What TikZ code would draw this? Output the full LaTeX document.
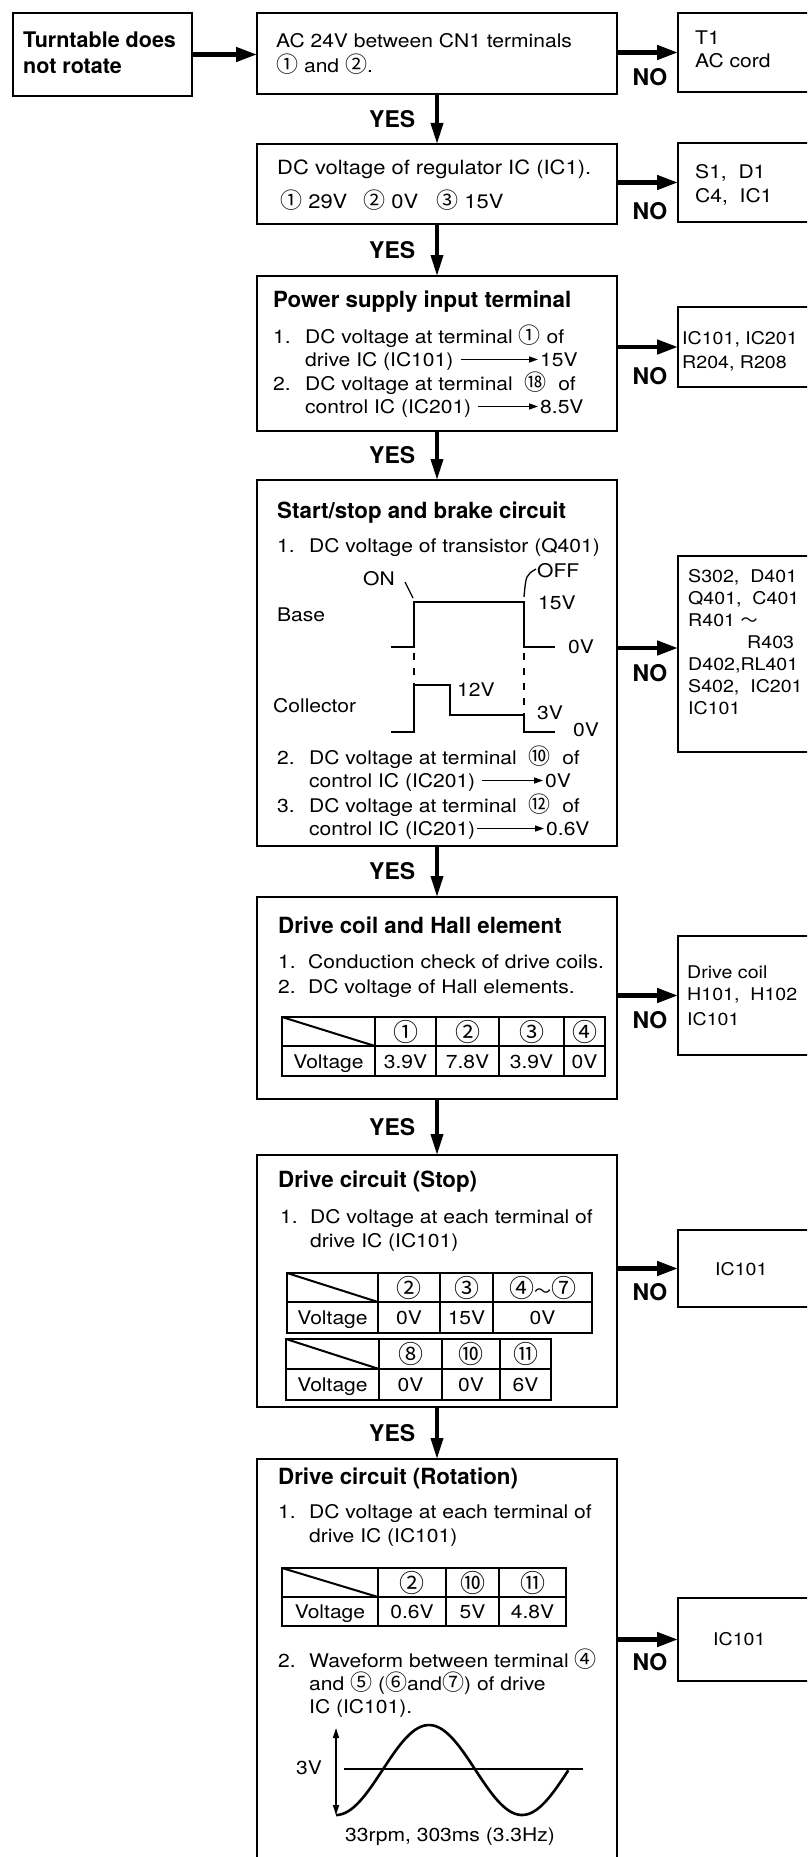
\documentclass[tikz,border=0pt]{standalone}
\usepackage{fontspec}
\setmainfont{TeX Gyre Heros}[FakeStretch=1.12]
\newfontfamily\headfont{TeX Gyre Heros}
\newfontfamily\cjk{Noto Sans CJK SC}
\usetikzlibrary{arrows.meta,positioning}

\newcommand\cnum[1]{{\cjk\fontsize{22}{22}\selectfont #1}}
\newcommand\tnum[1]{{\cjk\fontsize{25}{25}\selectfont #1}}
\newcommand\tildesign{{\cjk\fontsize{17}{17}\selectfont ～}}
\newcommand\txtsize{\fontsize{18.8}{22}\selectfont}
\newcommand\partsize{\fontsize{17.5}{21}\selectfont}
\newcommand\ttlsize{\headfont\bfseries\fontsize{22.3}{26}\selectfont}

\tikzset{
  box/.style={draw, line width=2.4pt, inner sep=0pt, outer sep=0pt, anchor=north west},
  txt/.style={anchor=base west, inner sep=0pt, font=\txtsize},
  part/.style={anchor=base west, inner sep=0pt, font=\partsize},
  ttl/.style={anchor=base west, inner sep=0pt, font=\ttlsize},
  lbl/.style={inner sep=0pt, font=\headfont\bfseries\fontsize{23}{26}\selectfont},
  flow/.style={line width=4.5pt, -{Triangle[length=21pt,width=14pt]}},
  yesarrow/.style={line width=3.6pt, -{Triangle[length=21pt,width=12pt]}},
  tarrow/.style={line width=1.3pt, -{Triangle[length=9pt,width=6pt]}, shorten <=7pt, shorten >=2pt},
  wave/.style={line width=2.6pt},
  tbl/.style={line width=2pt},
  cell/.style={anchor=base, inner sep=0pt, font=\txtsize},
}

\begin{document}
\begin{tikzpicture}[x=1pt,y=-1pt]
  \useasboundingbox (0,0) rectangle (807,1857);
  \fill[white] (0,0) rectangle (807,1857);
  \clip (0,0) rectangle (807,1857);

  % boxes of the main column
  \node[box, minimum width=179pt, minimum height=83pt] (start) at (13,13) {};
  \node[box, minimum width=360pt, minimum height=81pt] (q1) at (257,13) {};
  \node[box, minimum width=360pt, minimum height=80pt] (q2) at (257,144) {};
  \node[box, minimum width=360pt, minimum height=155pt] (q3) at (257,276) {};
  \node[box, minimum width=360pt, minimum height=366pt] (q4) at (257,480) {};
  \node[box, minimum width=360pt, minimum height=202pt] (q5) at (257,897) {};
  \node[box, minimum width=360pt, minimum height=252pt] (q6) at (257,1155) {};
  \node[box, minimum width=360pt, minimum height=450pt] (q7) at (257,1459) {};

  % parts to check (cut by the page edge)
  \node[box, minimum width=160pt, minimum height=79pt] (r1) at (678,13) {};
  \node[box, minimum width=160pt, minimum height=79pt] (r2) at (678,143) {};
  \node[box, minimum width=160pt, minimum height=80pt] (r3) at (678,307) {};
  \node[box, minimum width=160pt, minimum height=196pt] (r4) at (678,556) {};
  \node[box, minimum width=160pt, minimum height=119pt] (r5) at (678,936) {};
  \node[box, minimum width=160pt, minimum height=77pt] (r6) at (678,1230) {};
  \node[box, minimum width=160pt, minimum height=83pt] (r7) at (678,1598) {};

  % flow
  \draw[flow] (start.east) -- (start.east -| q1.west);
  \draw[yesarrow] (q1) -- (q2) node[midway, lbl, left=20pt] (y1) {YES};
  \draw[yesarrow] (q2) -- (q3) node[midway, lbl, left=20pt] (y2) {YES};
  \draw[yesarrow] (q3) -- (q4) node[midway, lbl, left=20pt] (y3) {YES};
  \draw[yesarrow] (q4) -- (q5) node[midway, lbl, left=20pt] (y4) {YES};
  \draw[yesarrow] (q5) -- (q6) node[midway, lbl, left=20pt] (y5) {YES};
  \draw[yesarrow] (q6) -- (q7) node[midway, lbl, left=20pt] (y6) {YES};
  \coordinate (in4) at ([yshift=6pt]r4.west);
  \draw[flow] (q1.east |- r1.west) -- (r1.west);
  \draw[flow] (q2.east |- r2.west) -- (r2.west);
  \draw[flow] (q3.east |- r3.west) -- (r3.west);
  \draw[flow] (q4.east |- in4) -- (in4);
  \draw[flow] (q5.east |- r5.west) -- (r5.west);
  \draw[flow] (q6.east |- r6.west) -- (r6.west);
  \draw[flow] (q7.east |- r7.west) -- (r7.west);
  \node[lbl] (n1) at ([shift={(-28,24.5)}]r1.west) {NO};
  \node[lbl] (n2) at ([shift={(-28,28.5)}]r2.west) {NO};
  \node[lbl] (n3) at ([shift={(-28,29)}]r3.west) {NO};
  \node[lbl] (n4) at ([shift={(-28,19)}]r4.west) {NO};
  \node[lbl] (n5) at ([shift={(-28,24.5)}]r5.west) {NO};
  \node[lbl] (n6) at ([shift={(-28,23.5)}]r6.west) {NO};
  \node[lbl] (n7) at ([shift={(-28,22.5)}]r7.west) {NO};

  % start
  \node[ttl, font=\headfont\bfseries\fontsize{21.5}{26}\selectfont] (s1) at (23,48) {Turntable does};
  \node[ttl, font=\headfont\bfseries\fontsize{21.5}{26}\selectfont] (s2) at (23,74) {not rotate};

  % AC input
  \node[txt] (b1) at (276,48) {AC 24V between CN1 terminals};
  \node[txt] (b2) at (276,73) {\cnum{①} and \cnum{②}.};
  \node[txt] (p1a) at (695,45) {T1};
  \node[txt] (p1b) at (695,68) {AC cord};

  % regulator
  \node[txt, font=\fontsize{19.6}{22}\selectfont] (c1) at (277,174) {DC voltage of regulator IC (IC1).};
  \node[txt, font=\fontsize{19.6}{22}\selectfont] (c2) at (280,208) {\cnum{①} 29V\hspace{16pt}\cnum{②} 0V\hspace{18pt}\cnum{③} 15V};
  \node[txt] (p2a) at (695,178) {S1,\ \ D1};
  \node[txt] (p2b) at (695,202) {C4,\ \ IC1};

  % power supply input
  \node[ttl] (d0) at (273,307) {Power supply input terminal};
  \node[txt] (d1n) at (273,343) {1.};
  \node[txt] (d1) at (305,343) {DC voltage at terminal \cnum{①} of};
  \node[txt] (d1b) at (305,366) {drive IC (IC101)};
  \node[txt] (d1v) at (540,366) {15V};
  \draw[tarrow] ([yshift=6.5pt]d1b.base east) -- ([yshift=6.5pt]d1v.base west);
  \node[txt] (d2n) at (273,390) {2.};
  \node[txt] (d2) at (305,390) {DC voltage at terminal\ \ \cnum{⑱}\ \ of};
  \node[txt] (d2b) at (305,413) {control IC (IC201)};
  \node[txt] (d2v) at (540,413) {8.5V};
  \draw[tarrow] ([yshift=6.5pt]d2b.base east) -- ([yshift=6.5pt]d2v.base west);
  \node[part] (p3a) at (682,344) {IC101, IC201};
  \node[part] (p3b) at (682,368) {R204, R208};

  % start/stop and brake
  \node[ttl] (e0) at (277,518) {Start/stop and brake circuit};
  \node[txt] (e1n) at (277,552) {1.};
  \node[txt] (e1) at (309,552) {DC voltage of transistor (Q401)};
  \node[txt] (on) at (363,585) {ON};
  \node[txt] (off) at (537,577) {OFF};
  \node[txt] (base) at (277,621) {Base};
  \node[txt] (b15) at (538,609) {15V};
  \node[txt] (b0) at (568,653) {0V};
  \node[txt] (c12) at (457,696) {12V};
  \node[txt] (coll) at (273,712) {Collector};
  \node[txt] (c3) at (537,719) {3V};
  \node[txt] (c0) at (573,736) {0V};
  \draw[wave] (391,647) -- (414,647) -- (414,602) -- (524,602) -- (524,647) -- (555,647);
  \draw[wave] (391,732) -- (414,732) -- (414,685) -- (450,685) -- (450,715) -- (524,715) -- (524,732) -- (555,732);
  \draw[line width=1.3pt, dash pattern=on 7pt off 8pt] (414,653) -- (414,685);
  \draw[line width=1.3pt, dash pattern=on 7pt off 8pt] (524,653) -- (524,715);
  \draw[line width=1.3pt] (405,582) -- (413,598);
  \draw[line width=1.3pt] (536,569) .. controls (526,575) .. (524,597);
  \node[txt] (e2n) at (277,764) {2.};
  \node[txt] (e2) at (309,764) {DC voltage at terminal\ \ \cnum{⑩}\ \ of};
  \node[txt] (e2b) at (309,787) {control IC (IC201)};
  \node[txt] (e2v) at (545,787) {0V};
  \draw[tarrow] ([yshift=6.5pt]e2b.base east) -- ([yshift=6.5pt]e2v.base west);
  \node[txt] (e3n) at (277,812) {3.};
  \node[txt] (e3) at (309,812) {DC voltage at terminal\ \ \cnum{⑫}\ \ of};
  \node[txt] (e3b) at (309,835) {control IC (IC201)};
  \node[txt] (e3v) at (546,835) {0.6V};
  \draw[tarrow, shorten <=2pt] ([yshift=6.5pt]e3b.base east) -- ([yshift=6.5pt]e3v.base west);
  \node[part] (p4a) at (688,582) {S302,\ \ D401};
  \node[part] (p4b) at (688,604) {Q401,\ \ C401};
  \node[part] (p4c) at (688,626) {R401 \tildesign};
  \node[part] (p4d) at (747,648) {R403};
  \node[part] (p4e) at (688,670) {D402,RL401};
  \node[part] (p4f) at (688,692) {S402,\ \ IC201};
  \node[part] (p4g) at (688,714) {IC101};

  % drive coil and Hall element
  \node[ttl] (f0) at (278,933) {Drive coil and Hall element};
  \node[txt] (f1n) at (278,968) {1.};
  \node[txt] (f1) at (308,968) {Conduction check of drive coils.};
  \node[txt] (f2n) at (278,993) {2.};
  \node[txt] (f2) at (308,993) {DC voltage of Hall elements.};
  \draw[tbl] (282,1017) rectangle (605,1076);
  \draw[tbl] (282,1046) -- (605,1046);
  \foreach \cx in {375,436,499,564} \draw[tbl] (\cx,1017) -- (\cx,1076);
  \draw[tbl] (282,1017) -- (375,1046);
  \foreach \cx/\n [count=\k] in {405.5/①, 467.5/②, 531.5/③, 584.5/④}
    \node[inner sep=0pt] (fh\k) at (\cx,1031.5) {\tnum{\n}};
  \node[cell] (fv0) at (328.5,1068) {Voltage};
  \foreach \cx/\v [count=\k] in {405.5/3.9V, 467.5/7.8V, 531.5/3.9V, 584.5/0V}
    \node[cell] (fv\k) at (\cx,1068) {\v};
  \node[part] (p5a) at (687,978) {Drive coil};
  \node[part] (p5b) at (687,1000) {H101,\ \ H102};
  \node[part] (p5c) at (687,1025) {IC101};

  % drive circuit, stop
  \node[ttl] (g0) at (278,1187) {Drive circuit (Stop)};
  \node[txt] (g1n) at (280,1223) {1.};
  \node[txt] (g1) at (310,1223) {DC voltage at each terminal of};
  \node[txt] (g1b) at (310,1247) {drive IC (IC101)};
  \draw[tbl] (287,1273) rectangle (592,1333);
  \draw[tbl] (287,1302) -- (592,1302);
  \foreach \cx in {378,440,493} \draw[tbl] (\cx,1273) -- (\cx,1333);
  \draw[tbl] (287,1273) -- (378,1302);
  \node[inner sep=0pt] (gh1) at (409,1287.5) {\tnum{②}};
  \node[inner sep=0pt] (gh2) at (466.5,1287.5) {\tnum{③}};
  \node[inner sep=0pt] (gh3) at (542.5,1287.5) {\tnum{④}\tildesign\tnum{⑦}};
  \node[cell] (gv0) at (332.5,1324) {Voltage};
  \node[cell] (gv1) at (409,1324) {0V};
  \node[cell] (gv2) at (466.5,1324) {15V};
  \node[cell] (gv3) at (542.5,1324) {0V};
  \draw[tbl] (286,1339) rectangle (551,1400);
  \draw[tbl] (286,1369) -- (551,1369);
  \foreach \cx in {379,442,500} \draw[tbl] (\cx,1339) -- (\cx,1400);
  \draw[tbl] (286,1339) -- (379,1369);
  \foreach \cx/\n [count=\k] in {410.5/⑧, 471/⑩, 525.5/⑪}
    \node[inner sep=0pt] (gk\k) at (\cx,1354) {\tnum{\n}};
  \node[cell] (gw0) at (332.5,1391) {Voltage};
  \foreach \cx/\v [count=\k] in {410.5/0V, 471/0V, 525.5/6V}
    \node[cell] (gw\k) at (\cx,1391) {\v};
  \node[part] (p6a) at (715,1275) {IC101};

  % drive circuit, rotation
  \node[ttl] (h0) at (278,1484) {Drive circuit (Rotation)};
  \node[txt] (h1n) at (278,1518) {1.};
  \node[txt] (h1) at (309,1518) {DC voltage at each terminal of};
  \node[txt] (h1b) at (309,1542) {drive IC (IC101)};
  \draw[tbl] (282,1568) rectangle (566,1626);
  \draw[tbl] (282,1597) -- (566,1597);
  \foreach \cx in {378,446,499} \draw[tbl] (\cx,1568) -- (\cx,1626);
  \draw[tbl] (282,1568) -- (378,1597);
  \foreach \cx/\n [count=\k] in {412/②, 472.5/⑩, 532.5/⑪}
    \node[inner sep=0pt] (hh\k) at (\cx,1582.5) {\tnum{\n}};
  \node[cell] (hv0) at (330,1618) {Voltage};
  \foreach \cx/\v [count=\k] in {412/0.6V, 472.5/5V, 532.5/4.8V}
    \node[cell] (hv\k) at (\cx,1618) {\v};
  \node[txt] (h2n) at (278,1667) {2.};
  \node[txt] (h2) at (309,1667) {Waveform between terminal \cnum{④}};
  \node[txt] (h2b) at (309,1690) {and \cnum{⑤} (\cnum{⑥}and\cnum{⑦}) of drive};
  \node[txt] (h2c) at (309,1713) {IC (IC101).};
  \draw[line width=1.5pt] (344,1769) -- (583,1769);
  \draw[line width=1.5pt, {Triangle[length=10pt,width=6pt]}-{Triangle[length=10pt,width=6pt]}] (336,1728) -- (336,1815);
  \draw[wave] plot[domain=0:1.25, samples=80, smooth] ({336+186*\x}, {1770+45*cos(360*\x)});
  \node[txt] (h3v) at (296,1774) {3V};
  \node[txt] (h3) at (345,1841) {33rpm, 303ms (3.3Hz)};
  \node[part] (p7a) at (713,1645) {IC101};
\end{tikzpicture}
\end{document}
